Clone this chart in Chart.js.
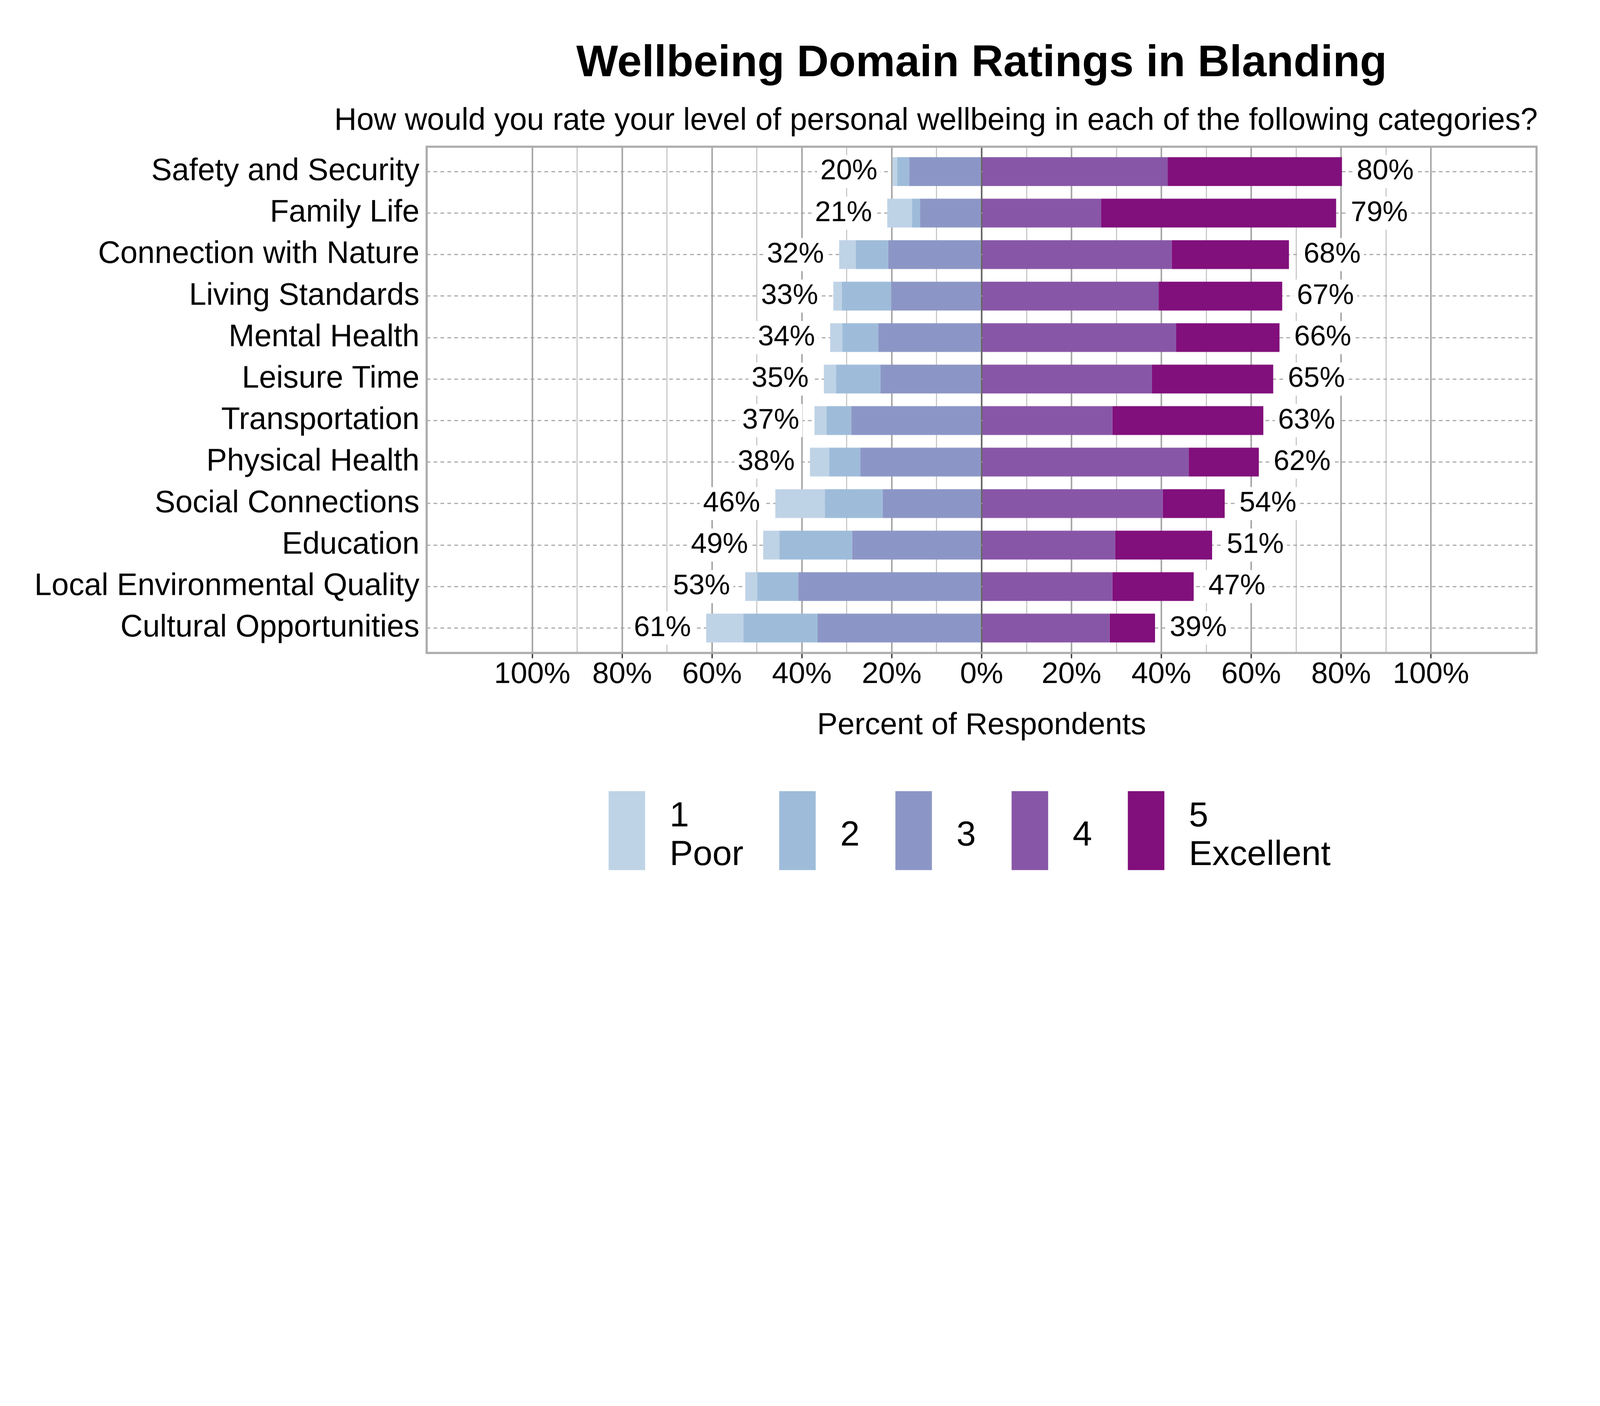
<!DOCTYPE html>
<html>
<head>
<meta charset="utf-8">
<title>Wellbeing Domain Ratings in Blanding</title>
<script src="https://cdn.jsdelivr.net/npm/chart.js@4.4.1/dist/chart.umd.min.js"></script>
<style>
  html, body { margin: 0; padding: 0; background: #fff; overflow: hidden; }
  #wrap { position: relative; }
</style>
</head>
<body>
<div id="wrap"><canvas id="likert-chart"></canvas></div>
<script>
// data (percent of respondents)
const categories = [
  "Safety and Security",
  "Family Life",
  "Connection with Nature",
  "Living Standards",
  "Mental Health",
  "Leisure Time",
  "Transportation",
  "Physical Health",
  "Social Connections",
  "Education",
  "Local Environmental Quality",
  "Cultural Opportunities",
];
const rating1 = [1.0, 5.5, 3.7, 1.9, 2.7, 2.7, 2.7, 4.3, 11.0, 3.6, 2.7, 8.3];
const rating2 = [2.7, 1.8, 7.2, 11.0, 8.0, 9.9, 5.5, 6.9, 12.9, 16.2, 9.1, 16.5];
const rating3 = [16.1, 13.7, 20.8, 20.1, 23.0, 22.5, 29.0, 27.0, 22.0, 28.8, 40.8, 36.5];
const rating4 = [41.4, 26.6, 42.3, 39.4, 43.3, 37.9, 29.1, 46.1, 40.3, 29.7, 29.1, 28.5];
const rating5 = [38.8, 52.3, 26.1, 27.5, 23.0, 27.0, 33.6, 15.6, 13.8, 21.6, 18.1, 10.1];
const xTickValues = [-100, -90, -80, -70, -60, -50, -40, -30, -20, -10, 0,
  10, 20, 30, 40, 50, 60, 70, 80, 90, 100];
const legendLabels = [["1", "Poor"], ["2"], ["3"], ["4"], ["5", "Excellent"]];

const titleText = "Wellbeing Domain Ratings in Blanding";
const subtitleText = "How would you rate your level of personal wellbeing in each of the following categories?";

const palette = ["#bfd3e6", "#9ebcda", "#8c96c6", "#8856a7", "#810f7c"];
const fontFamily = "'Liberation Sans', Arial, Helvetica, sans-serif";

// layout is worked out on a 6000x3600 sheet, then scaled to the window
const S = Math.min(window.innerWidth / 6000, window.innerHeight / 3600);
const u = (v) => v * S;
const wrap = document.querySelector("#wrap");
wrap.style.width = u(6000) + "px";
wrap.style.height = u(3600) + "px";

const leftTotals = categories.map((c, i) => rating1[i] + rating2[i] + rating3[i]);
const rightTotals = categories.map((c, i) => rating4[i] + rating5[i]);

// ratings 1-3 go to the left of zero, 4-5 to the right
const toPoints = (values, sign) => values.map((v, i) => ({ x: sign * v, y: i }));

const makeSet = (label, values, sign, color) => ({
  label: label,
  data: toPoints(values, sign),
  backgroundColor: color,
  borderWidth: 0,
  stack: "likert",
  barPercentage: 0.694,
  categoryPercentage: 1,
});

const likertExtras = {
  id: "likertExtras",
  afterDatasetsDraw(chart) {
    const { ctx, scales: { x, y } } = chart;
    ctx.save();
    ctx.font = u(107) + "px " + fontFamily;
    ctx.textBaseline = "middle";
    categories.forEach((cat, i) => {
      const yc = y.getPixelForValue(i);
      const lt = Math.round(leftTotals[i]) + "%";
      const rt = Math.round(rightTotals[i]) + "%";
      const lw = ctx.measureText(lt).width;
      const rw = ctx.measureText(rt).width;
      const lRight = x.getPixelForValue(-leftTotals[i]) - u(57);
      const rLeft = x.getPixelForValue(rightTotals[i]) + u(55);
      ctx.fillStyle = "#ffffff";
      ctx.fillRect(lRight - lw - u(12), yc - u(62), lw + u(24), u(124));
      ctx.fillRect(rLeft - u(12), yc - u(62), rw + u(24), u(124));
      ctx.fillStyle = "#000000";
      ctx.textAlign = "right";
      ctx.fillText(lt, lRight, yc);
      ctx.textAlign = "left";
      ctx.fillText(rt, rLeft, yc);
    });
    ctx.restore();
  },
  afterDraw(chart) {
    const { ctx, chartArea } = chart;
    const midX = (chartArea.left + chartArea.right) / 2;
    ctx.save();

    // frame round the plot
    ctx.strokeStyle = "#acacac";
    ctx.lineWidth = u(8);
    ctx.strokeRect(chartArea.left, chartArea.top,
      chartArea.right - chartArea.left, chartArea.bottom - chartArea.top);

    // title + subtitle
    ctx.fillStyle = "#000000";
    ctx.textAlign = "center";
    ctx.textBaseline = "alphabetic";
    ctx.font = "bold " + u(166) + "px " + fontFamily;
    ctx.fillText(titleText, midX, u(286));
    ctx.font = u(116) + "px " + fontFamily;
    ctx.fillText(subtitleText, u(3510), u(486));

    // legend below the axis title
    ctx.font = u(131) + "px " + fontFamily;
    ctx.textAlign = "left";
    ctx.textBaseline = "middle";
    const items = legendLabels.map((lines, k) => ({
      lines: lines,
      color: palette[k],
      w: Math.max(...lines.map((l) => ctx.measureText(l).width)),
    }));
    const total = items.reduce((s, it) => s + u(229) + it.w, 0) + u(134) * (items.length - 1);
    let lx = midX - u(45) - total / 2;
    const boxTop = chartArea.bottom + u(518);
    const textMid = chartArea.bottom + u(686);
    items.forEach((it) => {
      ctx.fillStyle = it.color;
      ctx.fillRect(lx, boxTop, u(137), u(296));
      ctx.fillStyle = "#000000";
      const firstY = textMid - (it.lines.length - 1) * u(145) / 2;
      it.lines.forEach((l, j) => ctx.fillText(l, lx + u(229), firstY + j * u(145)));
      lx += u(229) + it.w + u(134);
    });
    ctx.restore();
  },
};

const containerLikert = document.querySelector("#likert-chart").getContext("2d");

const likertChart = new Chart(containerLikert, {
  type: "bar",
  data: {
    datasets: [
      makeSet("3", rating3, -1, palette[2]),
      makeSet("2", rating2, -1, palette[1]),
      makeSet("1 Poor", rating1, -1, palette[0]),
      makeSet("4", rating4, 1, palette[3]),
      makeSet("5 Excellent", rating5, 1, palette[4]),
    ],
  },
  options: {
    indexAxis: "y",
    responsive: true,
    maintainAspectRatio: false,
    animation: false,
    layout: { padding: { top: u(550), right: u(238), bottom: u(752), left: 0 } },
    plugins: {
      legend: { display: false },
      title: { display: false },
      tooltip: { enabled: false },
    },
    scales: {
      x: {
        type: "linear",
        stacked: true,
        bounds: "data",
        min: -123.5,
        max: 123.5,
        afterBuildTicks: (scale) => {
          scale.ticks = xTickValues.map((v) => ({ value: v }));
        },
        afterFit: (scale) => {
          scale.height = u(400);
        },
        ticks: {
          autoSkip: false,
          maxRotation: 0,
          padding: u(5),
          color: "#000000",
          font: { family: fontFamily, size: u(112), lineHeight: 1 },
          callback: (value) => (value % 20 === 0 ? Math.abs(value) + "%" : ""),
        },
        grid: {
          color: (c) => (!c.tick ? "#a8a8a8" : c.tick.value === 0 ? "#666666"
            : c.tick.value % 20 === 0 ? "#a8a8a8" : "#c4c4c4"),
          lineWidth: (c) => (c.tick && c.tick.value % 20 !== 0 ? u(4) : u(6)),
          tickLength: u(20),
          tickWidth: u(5),
          tickColor: (c) => (c.tick && c.tick.value % 20 !== 0 ? "rgba(0,0,0,0)" : "#333333"),
        },
        border: { display: false },
        title: {
          display: true,
          text: "Percent of Respondents",
          color: "#000000",
          font: { family: fontFamily, size: u(115), lineHeight: 1 },
          padding: { top: 0, bottom: u(70) },
        },
      },
      y: {
        type: "linear",
        reverse: true,
        offset: false,
        bounds: "data",
        min: -0.6,
        max: 11.6,
        afterBuildTicks: (scale) => {
          scale.ticks = categories.map((c, i) => ({ value: i }));
        },
        afterFit: (scale) => {
          scale.width = u(1600);
        },
        ticks: {
          autoSkip: false,
          padding: u(27),
          color: "#000000",
          font: { family: fontFamily, size: u(116) },
          callback: (value) => categories[value],
        },
        grid: { color: "#a3a3a3", lineWidth: u(4), drawTicks: false, offset: false },
        border: { display: false, dash: [u(14), u(12)] },
      },
    },
  },
  plugins: [likertExtras],
});
</script>
</body>
</html>
